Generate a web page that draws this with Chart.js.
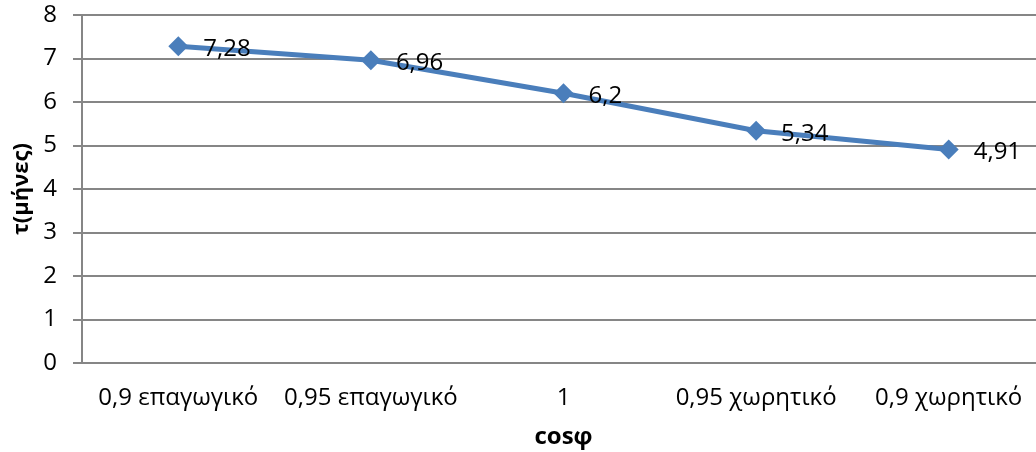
<!DOCTYPE html>
<html>
<head>
<meta charset="utf-8">
<script src="https://cdn.jsdelivr.net/npm/chart.js@4"></script>
<style>
  html, body { margin: 0; padding: 0; background: #fff; overflow: hidden; }
  #wrap { width: 1036px; height: 452px; overflow: hidden; position: relative; }
  canvas { display: block; }
</style>
</head>
<body>
<div id="wrap"><canvas id="chart" width="1055" height="452"></canvas></div>
<script>
// chart data
const categories = ["0,9 επαγωγικό", "0,95 επαγωγικό", "1", "0,95 χωρητικό", "0,9 χωρητικό"];
const months = [7.28, 6.96, 6.2, 5.34, 4.91];
const yTicks = [0, 1, 2, 3, 4, 5, 6, 7, 8];

const FONT = "'Open Sans', 'Noto Sans', sans-serif";
const FS = 24;
const GRID = '#868686';
const LINE = '#4A7EBB';

// draws the value next to each point, with a comma as decimal mark
const valueLabels = {
    id: 'valueLabels',
    afterDatasetsDraw(chart) {
        const ctx = chart.ctx;
        const meta = chart.getDatasetMeta(0);
        ctx.save();
        ctx.font = FS + 'px ' + FONT;
        ctx.fillStyle = '#000';
        ctx.textAlign = 'left';
        ctx.textBaseline = 'middle';
        meta.data.forEach((pt, i) => {
            const txt = String(months[i]).replace('.', ',');
            ctx.fillText(txt, pt.x + 25, pt.y + 3);
        });
        ctx.restore();
    }
};

// canvas is wider than the page so the plot runs off the right edge, like the original
new Chart(document.getElementById('chart'), {
    type: 'line',
    data: {
        labels: categories,
        datasets: [{
            data: months,
            borderColor: LINE,
            backgroundColor: LINE,
            borderWidth: 5,
            pointStyle: 'rectRot',
            pointRadius: 10,
            pointHoverRadius: 10,
            pointBorderWidth: 0,
            tension: 0
        }]
    },
    options: {
        responsive: false,
        animation: false,
        events: [],
        layout: { padding: { top: 15, right: 0, left: 9, bottom: 0 } },
        plugins: {
            legend: { display: false },
            tooltip: { enabled: false }
        },
        scales: {
            x: {
                offset: true,
                grid: { display: false },
                border: { display: true, color: GRID, width: 2 },
                ticks: {
                    color: '#000',
                    font: { family: FONT, size: FS },
                    padding: 13,
                    maxRotation: 0
                },
                title: {
                    display: true,
                    text: 'cosφ',
                    color: '#000',
                    font: { family: FONT, size: FS, weight: 'bold' },
                    padding: { top: 4, bottom: 0 }
                },
                afterFit(scale) {
                    scale.height = 89;
                    scale.paddingLeft = 0;
                    scale.paddingRight = 0;
                }
            },
            y: {
                min: 0,
                max: 8,
                afterBuildTicks(scale) { scale.ticks = yTicks.map(v => ({ value: v })); },
                grid: { color: GRID, lineWidth: 2, tickLength: 9 },
                border: { display: true, color: GRID, width: 2 },
                ticks: {
                    color: '#000',
                    font: { family: FONT, size: FS },
                    padding: 16
                },
                title: {
                    display: true,
                    text: 'τ(μήνες)',
                    color: '#000',
                    font: { family: FONT, size: FS - 2, weight: 'bold' },
                    padding: { top: 0, bottom: 0 }
                },
                afterFit(scale) {
                    scale.width = 73;
                    scale.paddingTop = 0;
                    scale.paddingBottom = 0;
                }
            }
        }
    },
    plugins: [valueLabels]
});
</script>
</body>
</html>
